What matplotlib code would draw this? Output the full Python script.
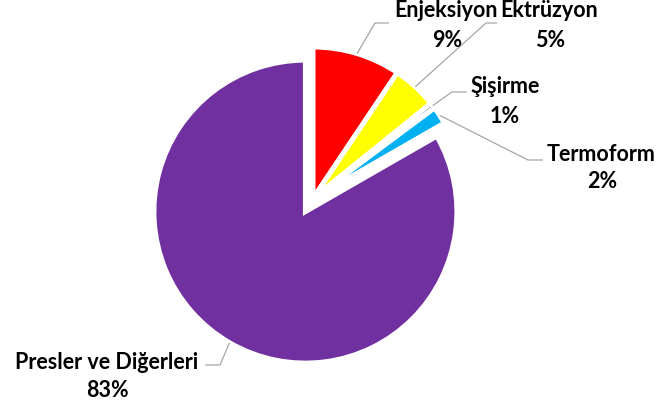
import numpy as np
import matplotlib
matplotlib.use("Agg")
import matplotlib.pyplot as plt

categories = ["Enjeksiyon", "Ektrüzyon", "Şişirme", "Termoform", "Presler ve Diğerleri"]
values = [9.4, 4.8, 0.6, 1.9, 83.3]
colors = ["#FF0000", "#FFFF00", "#1F3B6E", "#00B0F0", "#7030A0"]
explode = [0, 0, 0, 0, 0.1]

W, H = 659, 407
CX, CY, R = 313, 198.5, 151.5   # pie centre / radius in pixels (layout)

def px(x, y):
    return ((x - CX) / R, (CY - y) / R)

fig = plt.figure(figsize=(W / 100, H / 100), dpi=100)
ax = fig.add_axes([0, 0, 1, 1])
wedges, _ = ax.pie(values, colors=colors, startangle=90, counterclock=False,
                   explode=explode, radius=1,
                   wedgeprops=dict(edgecolor="white", linewidth=3.6))
ax.set_aspect("equal")
x0, y1 = px(0, 0)
x1, y0 = px(W, H)
ax.set_xlim(x0, x1)
ax.set_ylim(y0, y1)
ax.axis("off")

# label layout in pixels: (elbow, end, name baseline centre, pct baseline centre)
layout = [
    ((375, 23), (389, 23), (446, 17), (447, 47)),
    ((486, 23), (497, 23), (549, 17), (550, 47)),
    ((452, 92), (467, 92), (505, 93), (505, 123)),
    ((528, 160), (543, 160), (601, 161), (602, 188)),
    ((220, 365), (205, 365), (107, 369), (107, 397)),
]

total = sum(values)
font = dict(family=["Lato", "DejaVu Sans"], fontweight="bold", fontsize=15.5, color="black")
for w, name, v, (elb, end, tpos, ppos) in zip(wedges, categories, values, layout):
    th = np.deg2rad((w.theta1 + w.theta2) / 2)
    cx, cy = w.center
    sx, sy = cx + w.r * np.cos(th), cy + w.r * np.sin(th)
    ex, ey = px(*elb)
    fx, fy = px(*end)
    ax.plot([sx, ex, fx], [sy, ey, fy], color="#A6A6A6", lw=0.9, solid_capstyle="butt")
    pct = int(v / total * 100 + 0.5)
    ax.text(*px(*tpos), name, ha="center", va="baseline", **font)
    ax.text(*px(*ppos), f"{pct}%", ha="center", va="baseline", **font)

fig.savefig("out.png", dpi=100)
